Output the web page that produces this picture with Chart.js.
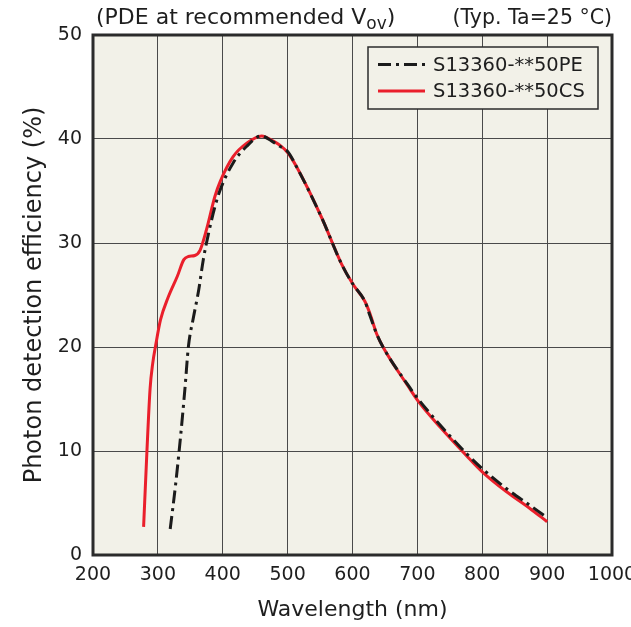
<!DOCTYPE html>
<html>
<head>
<meta charset="utf-8">
<script src="https://cdn.jsdelivr.net/npm/chart.js@4"></script>
<style>
  html, body { margin: 0; padding: 0; background: #fff; }
  canvas { display: block; }
</style>
</head>
<body>
<canvas id="chartPde" width="631" height="627"></canvas>
<script>
// S13360-**50PE (dash-dot black)
const peNm  = [319, 327, 335, 342, 347, 355, 363, 370, 378, 388, 396, 416, 437, 459, 478, 488, 500, 514, 552, 583, 600, 619, 627, 637, 647, 686, 700, 735, 775, 800, 837, 873, 900];
const pePde = [2.5, 6.6, 11.4, 16.2, 20.0, 22.9, 25.5, 28.4, 30.9, 33.5, 35.1, 37.7, 39.3, 40.3, 39.7, 39.3, 38.8, 37.3, 32.5, 28.0, 26.1, 24.4, 23.0, 21.3, 20.0, 16.3, 15.1, 12.5, 9.8, 8.3, 6.4, 4.8, 3.6];

// S13360-**50CS (solid red)
const csNm  = [278, 283, 288, 292, 297, 304, 316, 330, 340, 347, 357, 365, 375, 388, 396, 416, 437, 460, 478, 488, 500, 514, 552, 583, 600, 619, 627, 637, 647, 686, 700, 735, 775, 800, 837, 873, 900];
const csPde = [2.7, 9.8, 16.0, 18.4, 20.3, 22.6, 24.8, 26.8, 28.4, 28.7, 28.8, 29.3, 31.3, 34.5, 35.9, 38.3, 39.6, 40.3, 39.8, 39.4, 38.7, 37.3, 32.5, 28.0, 26.1, 24.4, 23.2, 21.3, 20.0, 16.2, 14.9, 12.3, 9.6, 8.0, 6.1, 4.5, 3.2];

const seriesNames = ['S13360-**50PE', 'S13360-**50CS'];
const xTicks = [200, 300, 400, 500, 600, 700, 800, 900, 1000];
const yTicks = [0, 10, 20, 30, 40, 50];

const FONT = '"DejaVu Sans", Verdana, sans-serif';
const plotBg = '#f2f1e8';
const frame = '#2b2b2b';
const ink = '#1e1e1e';

const toPts = (xs, ys) => xs.map((x, i) => ({ x, y: ys[i] }));

// beige plot area + heavy frame
const plotFrame = {
  id: 'plotFrame',
  beforeDraw(chart) {
    const { ctx, chartArea: a } = chart;
    ctx.save();
    ctx.fillStyle = plotBg;
    ctx.fillRect(a.left, a.top, a.right - a.left, a.bottom - a.top);
    ctx.restore();
  },
  afterDatasetsDraw(chart) {
    const { ctx, chartArea: a } = chart;
    ctx.save();
    ctx.strokeStyle = frame;
    ctx.lineWidth = 3;
    ctx.strokeRect(a.left, a.top, a.right - a.left, a.bottom - a.top);
    ctx.restore();
  }
};

// header texts and boxed legend inside the plot
const annotations = {
  id: 'annotations',
  afterDraw(chart) {
    const { ctx } = chart;
    ctx.save();
    ctx.fillStyle = ink;
    ctx.textBaseline = 'alphabetic';

    // (PDE at recommended V_ov)
    ctx.textAlign = 'left';
    ctx.font = '22px ' + FONT;
    let x = 96;
    const yb = 24;
    const t1 = '(PDE at recommended V';
    ctx.fillText(t1, x, yb);
    x += ctx.measureText(t1).width;
    ctx.font = '17px ' + FONT;
    ctx.fillText('ov', x, yb + 5);
    x += ctx.measureText('ov').width;
    ctx.font = '22px ' + FONT;
    ctx.fillText(')', x, yb);

    ctx.textAlign = 'right';
    ctx.font = '20.5px ' + FONT;
    ctx.fillText('(Typ. Ta=25 \u00B0C)', 612, yb);

    // legend box
    const bx = 368, by = 47, bw = 230, bh = 62;
    ctx.fillStyle = plotBg;
    ctx.fillRect(bx, by, bw, bh);
    ctx.strokeStyle = frame;
    ctx.lineWidth = 1.5;
    ctx.strokeRect(bx, by, bw, bh);

    const rows = [64.5, 91];
    chart.data.datasets.forEach((ds, i) => {
      const ly = rows[i];
      ctx.save();
      ctx.strokeStyle = ds.borderColor;
      ctx.lineWidth = ds.borderWidth;
      ctx.setLineDash(ds.borderDash || []);
      ctx.beginPath();
      ctx.moveTo(378, ly);
      ctx.lineTo(425, ly);
      ctx.stroke();
      ctx.restore();
      ctx.fillStyle = ink;
      ctx.textAlign = 'left';
      ctx.textBaseline = 'middle';
      ctx.font = '19.5px ' + FONT;
      ctx.fillText(ds.label, 433, ly + 1);
    });
    ctx.restore();
  }
};

new Chart(document.getElementById('chartPde'), {
  type: 'line',
  data: {
    datasets: [
      {
        label: seriesNames[0],
        data: toPts(peNm, pePde),
        borderColor: '#1b1b1b',
        borderWidth: 3,
        borderDash: [13, 5, 3, 5],
        pointRadius: 0,
        cubicInterpolationMode: 'monotone',
        fill: false
      },
      {
        label: seriesNames[1],
        data: toPts(csNm, csPde),
        borderColor: '#ea1f2b',
        borderWidth: 3,
        pointRadius: 0,
        cubicInterpolationMode: 'monotone',
        fill: false
      }
    ]
  },
  options: {
    responsive: false,
    animation: false,
    devicePixelRatio: 1,
    layout: { padding: { left: 0, top: 35, right: 19, bottom: 0 } },
    plugins: {
      legend: { display: false },
      tooltip: { enabled: false }
    },
    scales: {
      x: {
        type: 'linear',
        min: 200, max: 1000,
        afterBuildTicks: s => { s.ticks = xTicks.map(v => ({ value: v })); },
        afterFit: s => { s.height = 72; s.paddingLeft = 0; s.paddingRight = 0; },
        grid: { color: '#4a4a4a', lineWidth: 1, drawTicks: false },
        border: { display: false },
        ticks: { padding: 9, color: ink, maxRotation: 0, autoSkip: false, callback: v => String(v), font: { family: FONT, size: 19 } },
        title: { display: true, text: 'Wavelength (nm)', color: ink, padding: { top: 0, bottom: 4 }, font: { family: FONT, size: 22 } }
      },
      y: {
        min: 0, max: 50,
        afterBuildTicks: s => { s.ticks = yTicks.map(v => ({ value: v })); },
        afterFit: s => { s.width = 93; s.paddingTop = 0; s.paddingBottom = 0; },
        grid: { color: '#4a4a4a', lineWidth: 1, drawTicks: false },
        border: { display: false },
        ticks: { padding: 11, color: ink, callback: v => String(v), font: { family: FONT, size: 19 } },
        title: { display: true, text: 'Photon detection efficiency (%)', color: ink, padding: { top: 20, bottom: 0 }, font: { family: FONT, size: 24 } }
      }
    }
  },
  plugins: [plotFrame, annotations]
});
</script>
</body>
</html>
